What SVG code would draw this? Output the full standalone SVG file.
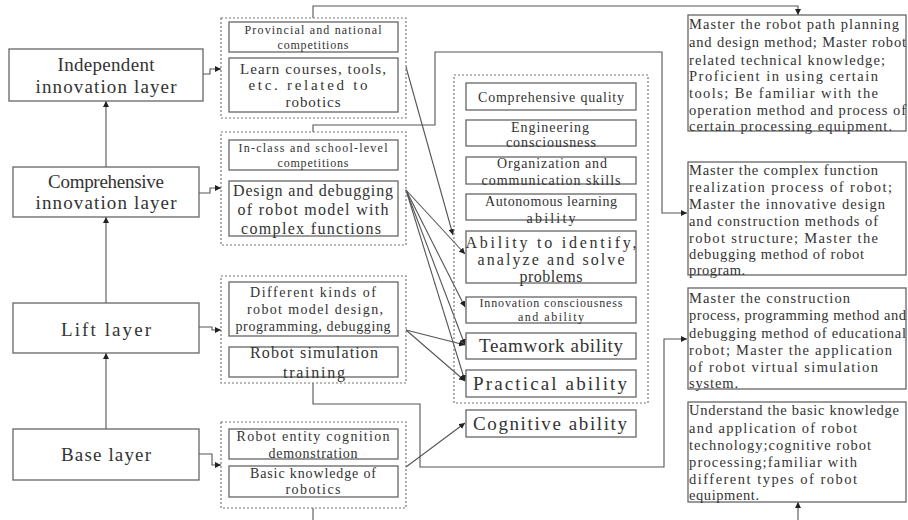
<svg xmlns="http://www.w3.org/2000/svg" width="908" height="520" viewBox="0 0 908 520">
<defs>
<marker id="ah" viewBox="0 0 10 10" refX="10" refY="5" markerWidth="6" markerHeight="6" markerUnits="userSpaceOnUse" orient="auto">
<path d="M0,0 L10,5 L0,10 z" fill="#222"/>
</marker>
<style>
.box{fill:#fff;stroke:#666;stroke-width:1.3}
.grp{fill:none;stroke:#777;stroke-width:1.2;stroke-dasharray:2,2}
.ln{fill:none;stroke:#555;stroke-width:1.1;marker-end:url(#ah)}
.pl{fill:none;stroke:#555;stroke-width:1.1}
text{font-family:"Liberation Serif","DejaVu Serif",serif;fill:#333}
.c{text-anchor:middle}
.l19{font-size:19px}
.t12{font-size:12px}
.t14{font-size:14px}
.t15{font-size:15px}
.t16{font-size:16px}
.t18{font-size:19px}
.r{font-size:14.5px}
</style>
</defs>
<rect width="908" height="520" fill="#fff"/>

<g id="connectors">
<path class="ln" d="M106,167 V101"/>
<path class="ln" d="M106,303 V217"/>
<path class="ln" d="M106,429 V353"/>
<path class="ln" d="M203,74 H210 V69 H221"/>
<path class="ln" d="M199,193 H210 V188 H221"/>
<path class="ln" d="M199,327 H212 V330 H221"/>
<path class="ln" d="M199,454 H212 V465 H221"/>
<path class="ln" d="M313,18 V6 H798 V15"/>
<path class="ln" d="M313,132 V125 H435 V52 H662 V213 H687"/>
<path class="ln" d="M313,383 V404 H420 V467 H664 V339 H687"/>
<path class="pl" d="M313,508 V520"/>
<path class="ln" d="M798,520 V502"/>
<path class="ln" d="M406,67 L453,235"/>
<path class="ln" d="M406,190 L465,254"/>
<path class="ln" d="M406,190 L465,307"/>
<path class="ln" d="M406,190 L465,345"/>
<path class="ln" d="M406,190 L465,381"/>
<path class="ln" d="M406,330 L465,345"/>
<path class="ln" d="M406,330 L465,381"/>
<path class="ln" d="M406,467 L465,423"/>
</g>

<g id="layer-independent">
<rect class="box" x="9" y="49" width="194" height="52"/>
<text class="c l19" x="106" y="71" textLength="97">Independent</text>
<text class="c l19" x="106" y="93" textLength="141">innovation layer</text>
</g>
<g id="layer-comprehensive">
<rect class="box" x="13" y="167" width="186" height="50"/>
<text class="c l19" x="106" y="188" textLength="116">Comprehensive</text>
<text class="c l19" x="106" y="209" textLength="141">innovation layer</text>
</g>
<g id="layer-lift">
<rect class="box" x="13" y="303" width="186" height="50"/>
<text class="c l19" x="106" y="336" textLength="90">Lift layer</text>
</g>
<g id="layer-base">
<rect class="box" x="13" y="429" width="186" height="51"/>
<text class="c l19" x="106" y="461" textLength="90">Base layer</text>
</g>

<g id="group-independent">
<rect class="grp" x="221" y="18" width="185" height="100"/>
<g id="provincial">
<rect class="box" x="229" y="22" width="169" height="30"/>
<text class="c t12" x="313" y="34" textLength="137">Provincial and national</text>
<text class="c t12" x="313" y="49" textLength="71">competitions</text>
</g>
<g id="learn-courses">
<rect class="box" x="229" y="58" width="169" height="54"/>
<text class="c t15" x="313" y="74" textLength="146">Learn courses, tools,</text>
<text class="c t15" x="308" y="90" textLength="119">etc. related to</text>
<text class="c t15" x="313" y="107" textLength="55">robotics</text>
</g>
</g>

<g id="group-comprehensive">
<rect class="grp" x="221" y="132" width="185" height="113"/>
<g id="in-class">
<rect class="box" x="229" y="140" width="169" height="30"/>
<text class="c t12" x="313" y="152" textLength="149">In-class and school-level</text>
<text class="c t12" x="313" y="167" textLength="71">competitions</text>
</g>
<g id="design-debug">
<rect class="box" x="229" y="181" width="169" height="55"/>
<text class="c t16" x="313" y="196" textLength="160">Design and debugging</text>
<text class="c t16" x="313" y="215" textLength="151">of robot model with</text>
<text class="c t16" x="311" y="234" textLength="140">complex functions</text>
</g>
</g>

<g id="group-lift">
<rect class="grp" x="221" y="276" width="185" height="107"/>
<g id="different-kinds">
<rect class="box" x="229" y="282" width="169" height="54"/>
<text class="c t14" x="313" y="297" textLength="126">Different kinds of</text>
<text class="c t14" x="315" y="314" textLength="136">robot model design,</text>
<text class="c t14" x="313" y="331" textLength="155">programming, debugging</text>
</g>
<g id="simulation">
<rect class="box" x="229" y="347" width="169" height="30"/>
<text class="c t16" x="314" y="358" textLength="128">Robot simulation</text>
<text class="c t16" x="314" y="378" textLength="62">training</text>
</g>
</g>

<g id="group-base">
<rect class="grp" x="221" y="422" width="185" height="86"/>
<g id="entity-cognition">
<rect class="box" x="229" y="429" width="169" height="30"/>
<text class="c t14" x="313" y="441" textLength="153">Robot entity cognition</text>
<text class="c t14" x="313" y="458" textLength="89">demonstration</text>
</g>
<g id="basic-knowledge">
<rect class="box" x="229" y="466" width="169" height="31"/>
<text class="c t14" x="313" y="478" textLength="126">Basic knowledge of</text>
<text class="c t14" x="313" y="494" textLength="55">robotics</text>
</g>
</g>

<g id="group-qualities">
<rect class="grp" x="454" y="75" width="194" height="328"/>
<g id="comprehensive-quality">
<rect class="box" x="466" y="83" width="170" height="27"/>
<text class="c t14" x="551" y="102" textLength="146">Comprehensive quality</text>
</g>
<g id="engineering">
<rect class="box" x="466" y="120" width="170" height="26"/>
<text class="c t14" x="550" y="132" textLength="78">Engineering</text>
<text class="c t14" x="551" y="147" textLength="90">consciousness</text>
</g>
<g id="organization">
<rect class="box" x="466" y="157" width="170" height="27"/>
<text class="c t14" x="552" y="168" textLength="110">Organization and</text>
<text class="c t14" x="551" y="185" textLength="139">communication skills</text>
</g>
<g id="autonomous">
<rect class="box" x="466" y="194" width="170" height="26"/>
<text class="c t14" x="551" y="206" textLength="132">Autonomous learning</text>
<text class="c t14" x="551" y="223" textLength="49">ability</text>
</g>
<g id="ability-identify">
<rect class="box" x="466" y="231" width="170" height="52"/>
<text class="c t16" x="551" y="248" textLength="171">Ability to identify,</text>
<text class="c t16" x="551" y="265" textLength="147">analyze and solve</text>
<text class="c t16" x="551" y="282" textLength="63">problems</text>
</g>
<g id="innovation">
<rect class="box" x="466" y="297" width="170" height="26"/>
<text class="c t12" x="551" y="307" textLength="143">Innovation consciousness</text>
<text class="c t12" x="551" y="321" textLength="66">and ability</text>
</g>
<g id="teamwork">
<rect class="box" x="466" y="333" width="170" height="26"/>
<text class="c t18" x="551" y="352" textLength="144">Teamwork ability</text>
</g>
<g id="practical">
<rect class="box" x="466" y="370" width="170" height="27"/>
<text class="c t18" x="550" y="390" textLength="154">Practical ability</text>
</g>
</g>
<g id="cognitive">
<rect class="box" x="466" y="410" width="170" height="27"/>
<text class="c t18" x="550" y="430" textLength="154">Cognitive ability</text>
</g>

<g id="outcome-independent">
<rect class="box" x="688" y="15" width="218" height="116"/>
<text class="r" x="689" y="29" textLength="210">Master the robot path planning</text>
<text class="r" x="689" y="47" textLength="217">and design method; Master robot</text>
<text class="r" x="689" y="65" textLength="196">related technical knowledge;</text>
<text class="r" x="689" y="81" textLength="189">Proficient in using certain</text>
<text class="r" x="689" y="98" textLength="189">tools; Be familiar with the</text>
<text class="r" x="689" y="115" textLength="217">operation method and process of</text>
<text class="r" x="689" y="131" textLength="203">certain processing equipment.</text>
</g>
<g id="outcome-comprehensive">
<rect class="box" x="688" y="162" width="218" height="113"/>
<text class="r" x="689" y="175" textLength="189">Master the complex function</text>
<text class="r" x="689" y="192" textLength="203">realization process of robot;</text>
<text class="r" x="689" y="209" textLength="196">Master the innovative design</text>
<text class="r" x="689" y="226" textLength="189">and construction methods of</text>
<text class="r" x="689" y="243" textLength="189">robot structure; Master the</text>
<text class="r" x="689" y="259" textLength="175">debugging method of robot</text>
<text class="r" x="689" y="275" textLength="56">program.</text>
</g>
<g id="outcome-lift">
<rect class="box" x="688" y="288" width="218" height="101"/>
<text class="r" x="689" y="303" textLength="161">Master the construction</text>
<text class="r" x="689" y="320" textLength="217">process, programming method and</text>
<text class="r" x="689" y="338" textLength="217">debugging method of educational</text>
<text class="r" x="689" y="355" textLength="203">robot; Master the application</text>
<text class="r" x="689" y="372" textLength="189">of robot virtual simulation</text>
<text class="r" x="689" y="388" textLength="49">system.</text>
</g>
<g id="outcome-base">
<rect class="box" x="688" y="402" width="218" height="100"/>
<text class="r" x="689" y="415" textLength="210">Understand the basic knowledge</text>
<text class="r" x="689" y="433" textLength="168">and application of robot</text>
<text class="r" x="689" y="450" textLength="182">technology;cognitive robot</text>
<text class="r" x="689" y="467" textLength="168">processing;familiar with</text>
<text class="r" x="689" y="484" textLength="168">different types of robot</text>
<text class="r" x="689" y="500" textLength="70">equipment.</text>
</g>
</svg>
